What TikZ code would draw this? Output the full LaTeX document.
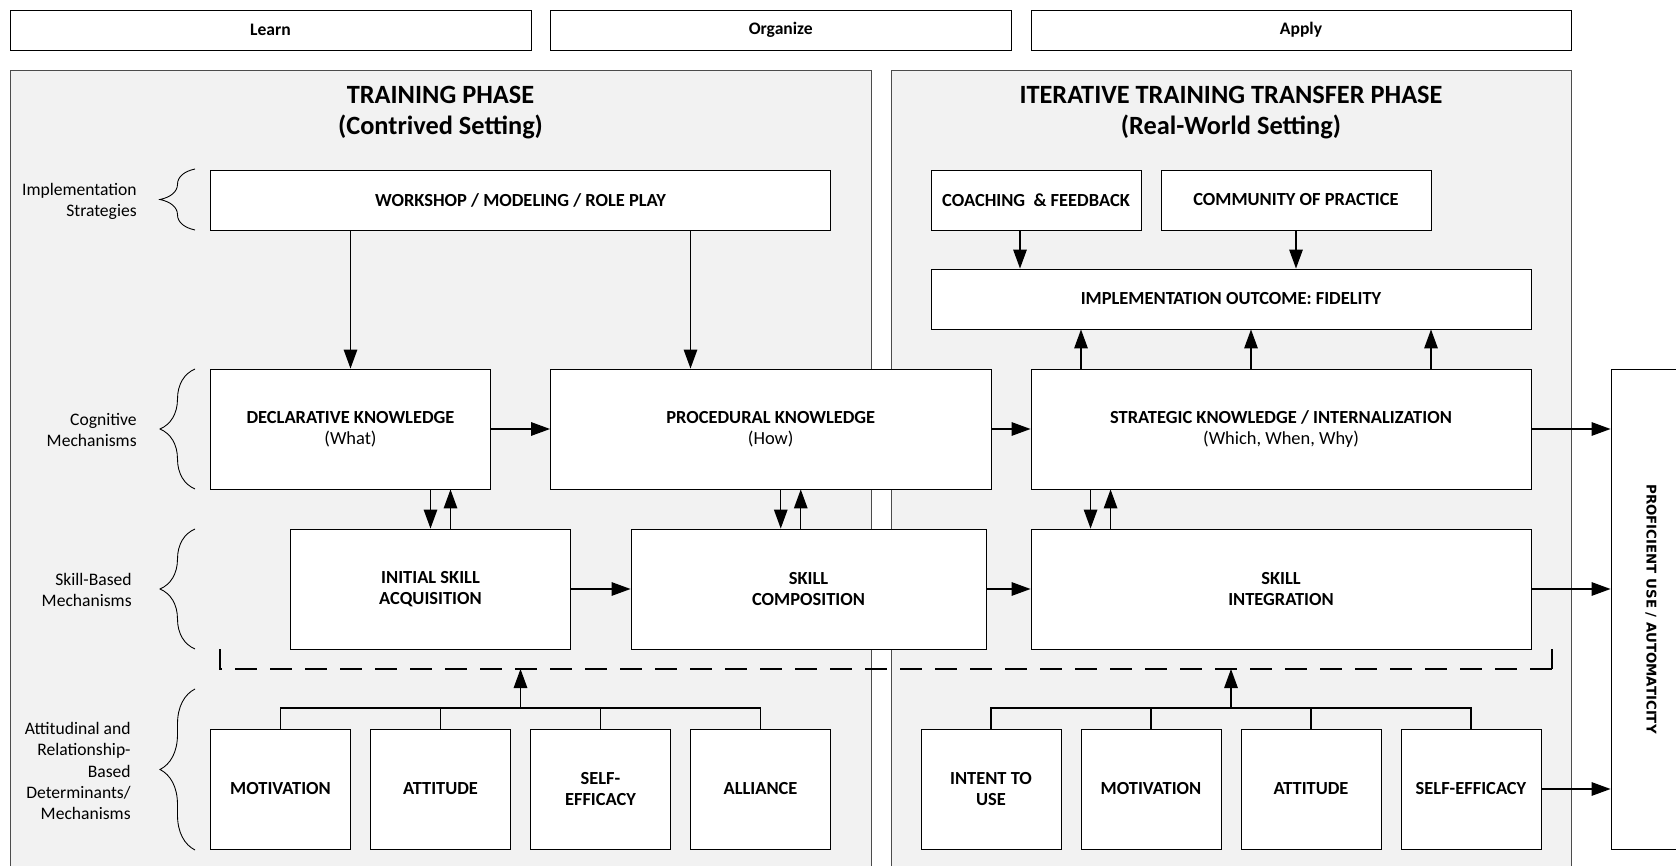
\documentclass[tikz,border=0pt]{standalone}
\usepackage{fontspec}
\setmainfont{Carlito}
\newfontfamily\proffont{DejaVu Sans}
\usetikzlibrary{arrows.meta,decorations.pathreplacing}
\definecolor{panelgray}{HTML}{F2F2F2}

\begin{document}
\begin{tikzpicture}[x=0.2mm, y=-0.2mm,
	box/.style={draw=black, fill=white, line width=0.5pt, align=center, inner sep=1pt, font=\bfseries\fontsize{10.5}{11.7}\selectfont},
	big/.style={box, minimum height=24mm},
	small/.style={box, minimum width=28mm, minimum height=24mm},
	bar/.style={box, minimum height=8mm, font=\bfseries\fontsize{10}{12}\selectfont},
	panel/.style={draw=black!70, fill=panelgray, line width=0.5pt},
	title/.style={align=center, font=\bfseries\fontsize{15}{17.6}\selectfont},
	side/.style={align=right, anchor=east, inner sep=0pt, font=\fontsize{10}{12}\selectfont},
	arr/.style={-{Triangle[length=3.8mm, width=2.7mm]}, line width=0.8pt},
	link/.style={line width=0.8pt},
	brace/.style={decorate, decoration={brace, amplitude=7mm}, line width=0.5pt},
	dashline/.style={line width=0.8pt, dash pattern=on 4.4mm off 2.6mm}
]
	\useasboundingbox (0,0) rectangle (1676,866);
	\clip (0,0) rectangle (1676,866);
	
	% top bar
	\node[bar, minimum width=104.2mm] (learn) at (270.5,30) {Learn};
	\node[bar, minimum width=92.1mm] (org) at (780.75,30) {Organize};
	\node[bar, minimum width=108mm] (apply) at (1301,30) {Apply};
	
	% panels
	\draw[panel] (10,70) rectangle (871,900);
	\draw[panel] (891,70) rectangle (1571,900);
	\node[title] (tp) at (440.5,113) {TRAINING PHASE\\(Contrived Setting)};
	\node[title] (ttp) at (1231,113) {ITERATIVE TRAINING TRANSFER PHASE\\(Real-World Setting)};
	
	% training phase
	% modules
	\node[box, minimum width=124mm, minimum height=12mm] (ws) at (520.5,200) {WORKSHOP / MODELING / ROLE PLAY};
	\node[big, minimum width=56mm] (dk) at (350.5,429) {DECLARATIVE KNOWLEDGE\\\mdseries (What)};
	\node[big, minimum width=88.1mm] (pk) at (770.75,429) {PROCEDURAL KNOWLEDGE\\\mdseries (How)};
	\node[big, minimum width=56mm] (isa) at (430.5,589) {INITIAL SKILL\\ACQUISITION};
	\node[big, minimum width=71mm] (sc) at (808.5,589) {SKILL\\COMPOSITION};
	\node[small] (mot) at (280.5,789) {MOTIVATION};
	\node[small] (att) at (440.5,789) {ATTITUDE};
	\node[small] (se) at (600.5,789) {SELF-\\EFFICACY};
	\node[small] (all) at (760.5,789) {ALLIANCE};
	
	% transfer phase
	% modules
	\node[box, minimum width=42mm, minimum height=12mm] (cf) at (1036,200) {COACHING~ \& FEEDBACK};
	\node[box, minimum width=54mm, minimum height=12mm] (cop) at (1296,200) {COMMUNITY OF PRACTICE};
	\node[box, minimum width=120mm, minimum height=12mm] (fid) at (1231,299) {IMPLEMENTATION OUTCOME: FIDELITY};
	\node[big, minimum width=100mm] (sk) at (1281,429) {STRATEGIC KNOWLEDGE / INTERNALIZATION\\\mdseries (Which, When, Why)};
	\node[big, minimum width=100mm] (si) at (1281,589) {SKILL\\INTEGRATION};
	\node[small] (itu) at (991,789) {INTENT TO\\USE};
	\node[small] (mot2) at (1151,789) {MOTIVATION};
	\node[small] (att2) at (1311,789) {ATTITUDE};
	\node[small] (se2) at (1471,789) {SELF-EFFICACY};
	
	% outcome (rotated, so its south side faces left)
	\node[draw, fill=white, line width=0.5pt, rotate=-90, minimum width=96mm, minimum height=16mm, font=\proffont\bfseries\fontsize{7.6}{9}\selectfont] (pu) at (1651,609) {PROFICIENT USE / AUTOMATICITY};
	
	% lines
	\draw[arr] (ws.south -| dk.north) -- (dk.north);
	\draw[arr] ([xshift=34mm]ws.south) -- ([xshift=34mm]ws.south |- pk.north);
	\draw[arr] (dk.east) -- (pk.west);
	\draw[arr] (pk.east) -- (sk.west);
	\draw[arr] (isa.east) -- (sc.west);
	\draw[arr] (sc.east) -- (si.west);
	
	\draw[arr] (isa.north |- dk.south) -- (isa.north);
	\draw[arr] ([xshift=4mm]isa.north) -- ([xshift=4mm]isa.north |- dk.south);
	\draw[arr] ([xshift=2mm]pk.south) -- ([xshift=2mm]pk.south |- sc.north);
	\draw[arr] ([xshift=6mm]pk.south |- sc.north) -- ([xshift=6mm]pk.south);
	\draw[arr] ([xshift=12mm]sk.south west) -- ([xshift=12mm]sk.south west |- si.north);
	\draw[arr] ([xshift=16mm]sk.south west |- si.north) -- ([xshift=16mm]sk.south west);
	
	\draw[arr] ([xshift=-3.2mm]cf.south) -- ([xshift=-3.2mm]cf.south |- fid.north);
	\draw[arr] (cop.south) -- (cop.south |- fid.north);
	\foreach \dx in {-40mm, -6mm, 30mm}
		\draw[arr] ([xshift=\dx]sk.north) -- ([xshift=\dx]sk.north |- fid.south);
	
	\draw[arr] (sk.east) -- (sk.east -| pu.south);
	\draw[arr] (si.east) -- (si.east -| pu.south);
	\draw[arr] (se2.east) -- (se2.east -| pu.south);
	
	% dashed frame
	\coordinate (dtl) at (220,649);
	\coordinate (dbl) at (220,669);
	\coordinate (dbr) at (1552,669);
	\coordinate (dtr) at (1552,649);
	\draw[dashline] (dtl) -- (dbl) -- (dbr);
	\draw[dashline] (dtr) -- (dbr);
	
	% determinants
	\coordinate (jl) at (520.5,708);
	\draw[link] (mot.north) |- (jl) -| (all.north);
	\draw[link] (att.north) -- (att.north |- jl);
	\draw[link] (se.north) -- (se.north |- jl);
	\draw[arr] (jl) -- (jl |- dbl);
	
	\coordinate (jr) at (1231,708);
	\draw[link] (itu.north) |- (jr) -| (se2.north);
	\draw[link] (mot2.north) -- (mot2.north |- jr);
	\draw[link] (att2.north) -- (att2.north |- jr);
	\draw[arr] (jr) -- (jr |- dbl);
	
	% braces
	\draw[brace] (195,230) -- (195,169);
	\node[side] (l1) at (137,201) {Implementation\\Strategies};
	\draw[brace] (195,489) -- (195,369);
	\node[side] (l2) at (137,430) {Cognitive\\Mechanisms};
	\draw[brace] (195,649) -- (195,529);
	\node[side] (l3) at (132,590) {Skill-Based\\Mechanisms};
	\draw[brace] (195,850) -- (195,689);
	\node[side] (l4) at (131,771) {Attitudinal and\\Relationship-\\Based\\Determinants/\\Mechanisms};
\end{tikzpicture}
\end{document}
